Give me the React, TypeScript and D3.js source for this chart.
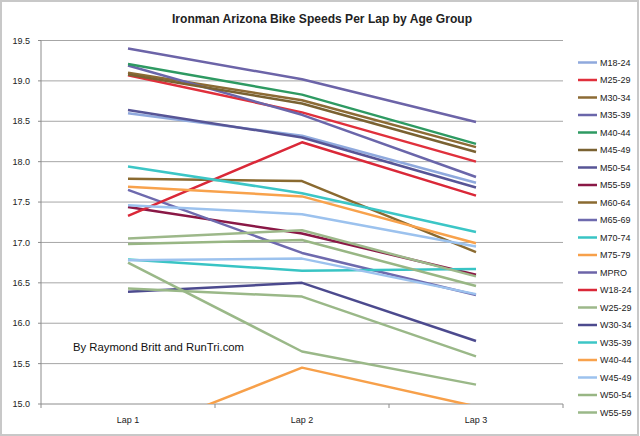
import React from "react";
import * as d3 from "d3";

const laps = ["Lap 1", "Lap 2", "Lap 3"];
const seriesNames = [
  "M18-24", "M25-29", "M30-34", "M35-39", "M40-44", "M45-49", "M50-54",
  "M55-59", "M60-64", "M65-69", "M70-74", "M75-79", "MPRO", "W18-24",
  "W25-29", "W30-34", "W35-39", "W40-44", "W45-49", "W50-54", "W55-59",
  "W60-64", "W65-69",
];
const seriesValues: number[][] = [
  [18.60, 18.32, 17.74], // M18-24
  [19.07, 18.61, 18.00], // M25-29
  [19.10, 18.76, 18.18], // M30-34
  [19.19, 18.58, 17.81], // M35-39
  [19.21, 18.83, 18.22], // M40-44
  [19.08, 18.72, 18.12], // M45-49
  [18.64, 18.30, 17.68], // M50-54
  [17.44, 17.11, 16.60], // M55-59
  [17.79, 17.76, 16.88], // M60-64
  [17.65, 16.87, 16.35], // M65-69
  [16.79, 16.65, 16.67], // M70-74
  [14.60, 15.45, 14.97], // M75-79
  [19.40, 19.02, 18.49], // MPRO
  [17.33, 18.24, 17.58], // W18-24
  [17.05, 17.15, 16.58], // W25-29
  [16.39, 16.50, 15.78], // W30-34
  [17.94, 17.61, 17.13], // W35-39
  [17.69, 17.57, 16.99], // W40-44
  [17.46, 17.35, 16.95], // W45-49
  [16.98, 17.03, 16.46], // W50-54
  [16.43, 16.33, 15.59], // W55-59
  [16.75, 15.65, 15.24], // W60-64
  [16.78, 16.80, 16.36], // W65-69
];
const seriesColors = [
  "#8FA9DD", "#E0303C", "#8C6B35", "#6A66AA", "#2E9A62", "#7A6232", "#575596",
  "#8A1846", "#8A6A30", "#6E6AAE", "#38C4C4", "#F7A04A", "#6C64A8", "#DA2838",
  "#9DB88A", "#4C4A8E", "#3CC6C6", "#F8A24C", "#9CC2EE", "#98B684", "#9AB888",
  "#9AB888", "#9CC2EE",
];
const legendCount = 21;
const yTicks = [15.0, 15.5, 16.0, 16.5, 17.0, 17.5, 18.0, 18.5, 19.0, 19.5];
const title = "Ironman Arizona Bike Speeds Per Lap by Age Group";
const credit = "By Raymond Britt and RunTri.com";

export default function App() {
  const W = 640, H = 436;
  const left = 41, right = 563, top = 40.5, bottom = 404;
  const y = d3.scaleLinear().domain([15, 19.5]).range([bottom, top]);
  const band = d3.scaleBand().domain(laps).range([left, right]).padding(0);
  const x = (d: string) => (band(d) as number) + band.bandwidth() / 2;
  const line = d3.line<number>().x((_, i) => x(laps[i])).y((v) => y(v));
  const legendNames = seriesNames.slice(0, legendCount);
  const ly = d3.scalePoint().domain(legendNames).range([62.5, 412.5]);
  const fmt = d3.format(".1f");
  const font = "'Liberation Sans', Arial, sans-serif";
  const boundaries = [...laps.map((l) => band(l) as number), right];

  return (
    <svg width={W} height={H} style={{ position: "absolute", left: 0, top: 0 }} fontFamily={font}>
      <rect x={0} y={0} width={W} height={H} fill="#fff" />
      <rect x={1} y={1} width={637} height={434} fill="none" stroke="#C8C8C8" strokeWidth={2} />
      <defs>
        <clipPath id="plot">
          <rect x={left} y={top} width={right - left} height={bottom - top} />
        </clipPath>
      </defs>
      <text x={322} y={23} textAnchor="middle" fontSize={13.5} fontWeight="bold" fill="#222"
        textLength={300} lengthAdjust="spacingAndGlyphs">{title}</text>
      {yTicks.map((t) => (
        <g key={t}>
          {t > 15 && <line x1={left} x2={right} y1={y(t)} y2={y(t)} stroke="#A6A6A6" strokeWidth={1} />}
          <line x1={left - 3} x2={left} y1={y(t)} y2={y(t)} stroke="#8C8C8C" />
          <text x={30} y={y(t) + 3.2} textAnchor="end" fontSize={9} fill="#222">{fmt(t)}</text>
        </g>
      ))}
      <line x1={left} x2={left} y1={top} y2={bottom} stroke="#8C8C8C" />
      <line x1={left} x2={right} y1={bottom} y2={bottom} stroke="#8C8C8C" />
      {boundaries.map((b, i) => (
        <line key={i} x1={b} x2={b} y1={bottom} y2={bottom + 4} stroke="#8C8C8C" />
      ))}
      {laps.map((l) => (
        <text key={l} x={x(l)} y={423} textAnchor="middle" fontSize={9} fill="#222">{l}</text>
      ))}
      <text x={73} y={351} fontSize={10} fill="#111" textLength={171} lengthAdjust="spacingAndGlyphs">{credit}</text>
      <g clipPath="url(#plot)">
        {seriesValues.map((vals, i) => (
          <path key={seriesNames[i]} d={line(vals) as string} fill="none"
            stroke={seriesColors[i]} strokeWidth={2.5} strokeLinejoin="round" />
        ))}
      </g>
      {legendNames.map((n, i) => (
        <g key={n}>
          <line x1={578} x2={597} y1={ly(n) as number} y2={ly(n) as number}
            stroke={seriesColors[i]} strokeWidth={2.5} />
          <text x={600} y={(ly(n) as number) + 3.2} fontSize={9} fill="#222">{n}</text>
        </g>
      ))}
    </svg>
  );
}
